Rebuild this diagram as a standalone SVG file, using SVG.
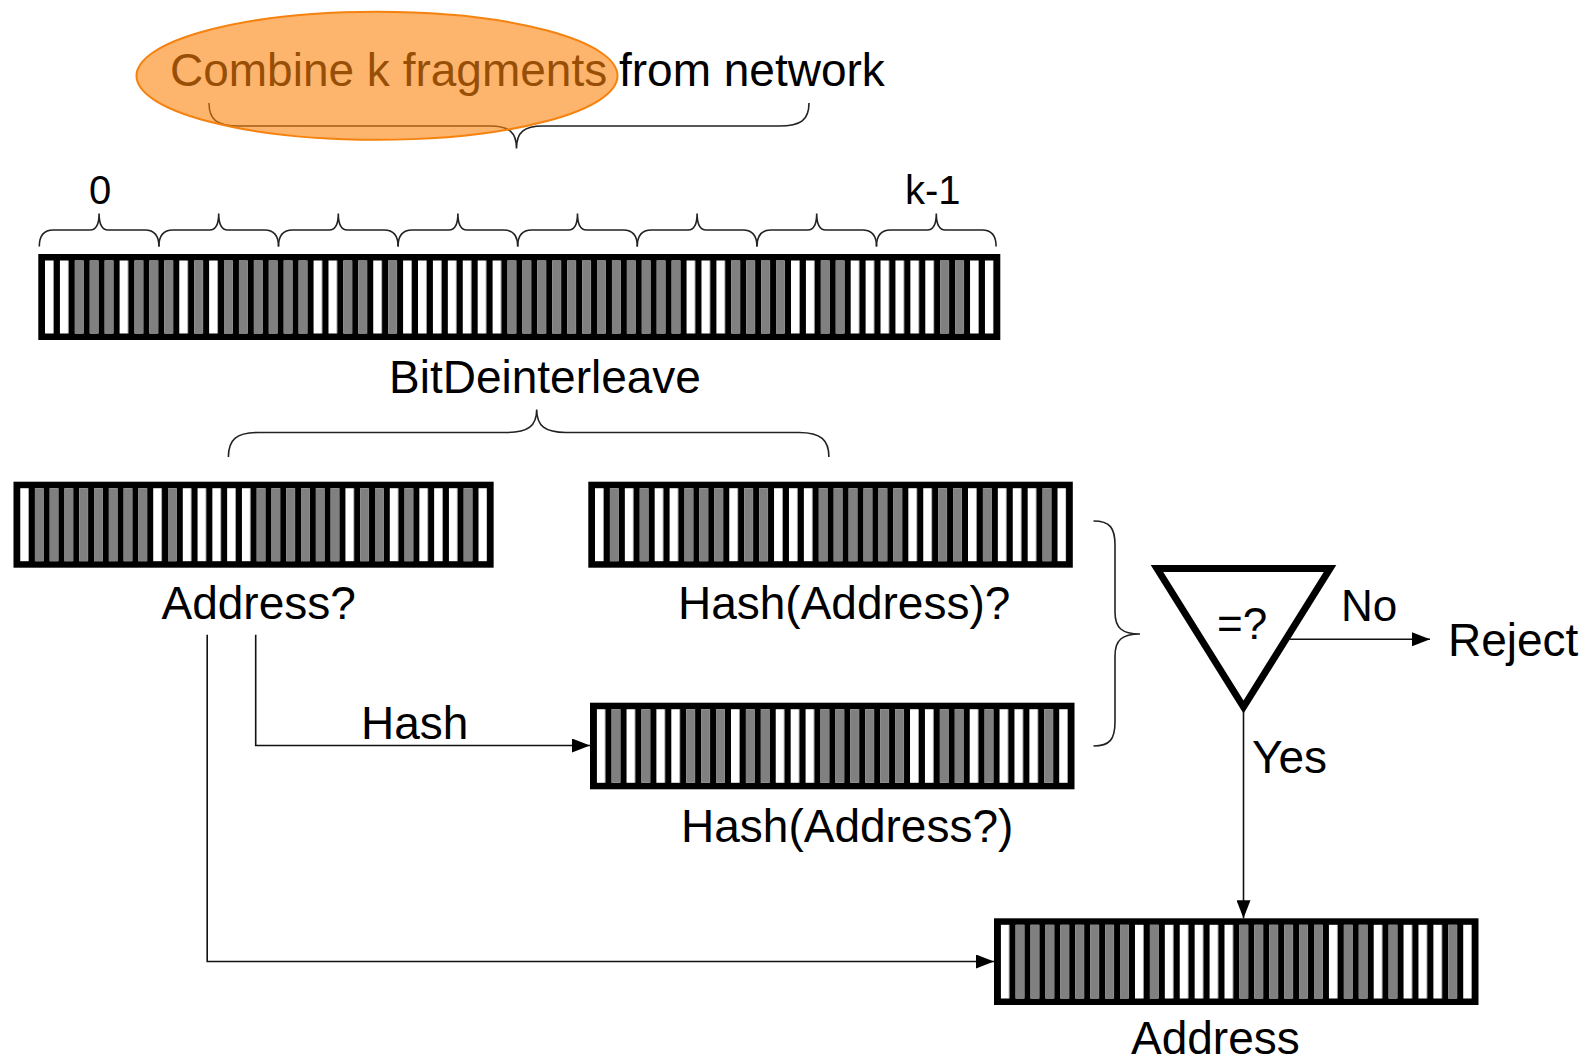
<svg xmlns="http://www.w3.org/2000/svg" xmlns:xlink="http://www.w3.org/1999/xlink" width="1585" height="1062" viewBox="0 0 1585 1062">
<style>
text{font-family:"Liberation Sans",Arial,Helvetica,sans-serif;font-size:46px;fill:#000}
.g{fill:#808080}
.bar{fill:#000}
.conn{fill:none;stroke:#111;stroke-width:1.6}
.brace{fill:none;stroke:#222;stroke-width:1.6}
</style>
<defs>
<pattern id="ws" patternUnits="userSpaceOnUse" x="6.7" y="0" width="14.92" height="200">
<rect x="0" y="0" width="8.6" height="200" fill="#fff"/>
</pattern>
<marker id="arr" markerUnits="userSpaceOnUse" markerWidth="18" markerHeight="14" refX="18" refY="7" orient="auto">
<path d="M0,0 L18,7 L0,14 Z" fill="#000"/>
</marker>
<path id="sb" class="brace" d="M0,246.5 Q0,230 14,230 L50.8,230 Q59.8,230 59.8,213.5 Q59.8,230 68.8,230 L105.6,230 Q119.6,230 119.6,246.5"/>
</defs>

<g id="title">
<text x="170" y="86">Combine k fragments</text>
<text x="619" y="86">from network</text>
<path class="brace" d="M209,103 C209,120 217,126 239,126 L490,126 C509,126 516.5,132 516.5,148.5 C516.5,132 524,126 543,126 L779,126 C801,126 809,120 809,103"/>
<ellipse cx="377" cy="75.8" rx="240.5" ry="64" fill="#FC820A" fill-opacity="0.6" stroke="#F5820F" stroke-width="2"/>
</g>

<g id="fragment-braces">
<use xlink:href="#sb" x="39.3"/>
<use xlink:href="#sb" x="158.9"/>
<use xlink:href="#sb" x="278.5"/>
<use xlink:href="#sb" x="398.1"/>
<use xlink:href="#sb" x="517.7"/>
<use xlink:href="#sb" x="637.3"/>
<use xlink:href="#sb" x="756.9"/>
<use xlink:href="#sb" x="876.5"/>
<text x="100" y="204" text-anchor="middle" style="font-size:40px">0</text>
<text x="905" y="204" style="font-size:40px">k-1</text>
</g>

<g id="combined-bar" transform="translate(38.3,254)">
<rect class="bar" x="0" y="0" width="962" height="86"/>
<rect x="6.7" y="6.5" width="948.6" height="73" fill="url(#ws)"/>
<g class="g">
<rect x="36.54" y="6.5" width="8.6" height="73"/>
<rect x="51.46" y="6.5" width="8.6" height="73"/>
<rect x="66.38" y="6.5" width="8.6" height="73"/>
<rect x="96.22" y="6.5" width="8.6" height="73"/>
<rect x="111.14" y="6.5" width="8.6" height="73"/>
<rect x="126.06" y="6.5" width="8.6" height="73"/>
<rect x="155.90" y="6.5" width="8.6" height="73"/>
<rect x="185.74" y="6.5" width="8.6" height="73"/>
<rect x="200.66" y="6.5" width="8.6" height="73"/>
<rect x="215.58" y="6.5" width="8.6" height="73"/>
<rect x="230.50" y="6.5" width="8.6" height="73"/>
<rect x="245.42" y="6.5" width="8.6" height="73"/>
<rect x="260.34" y="6.5" width="8.6" height="73"/>
<rect x="305.10" y="6.5" width="8.6" height="73"/>
<rect x="320.02" y="6.5" width="8.6" height="73"/>
<rect x="349.86" y="6.5" width="8.6" height="73"/>
<rect x="469.22" y="6.5" width="8.6" height="73"/>
<rect x="484.14" y="6.5" width="8.6" height="73"/>
<rect x="499.06" y="6.5" width="8.6" height="73"/>
<rect x="513.98" y="6.5" width="8.6" height="73"/>
<rect x="528.90" y="6.5" width="8.6" height="73"/>
<rect x="543.82" y="6.5" width="8.6" height="73"/>
<rect x="558.74" y="6.5" width="8.6" height="73"/>
<rect x="573.66" y="6.5" width="8.6" height="73"/>
<rect x="588.58" y="6.5" width="8.6" height="73"/>
<rect x="603.50" y="6.5" width="8.6" height="73"/>
<rect x="618.42" y="6.5" width="8.6" height="73"/>
<rect x="633.34" y="6.5" width="8.6" height="73"/>
<rect x="693.02" y="6.5" width="8.6" height="73"/>
<rect x="707.94" y="6.5" width="8.6" height="73"/>
<rect x="722.86" y="6.5" width="8.6" height="73"/>
<rect x="737.78" y="6.5" width="8.6" height="73"/>
<rect x="782.54" y="6.5" width="8.6" height="73"/>
<rect x="797.46" y="6.5" width="8.6" height="73"/>
<rect x="901.90" y="6.5" width="8.6" height="73"/>
<rect x="916.82" y="6.5" width="8.6" height="73"/>
</g>
</g>

<g id="bitdeinterleave">
<text x="389" y="393">BitDeinterleave</text>
<path class="brace" d="M228.4,457 C228.4,440 236,432.5 258,432.5 L507,432.5 C528,432.5 536.7,426 536.7,409.5 C536.7,426 545,432.5 566,432.5 L799,432.5 C821,432.5 828.9,440 828.9,457"/>
</g>

<g id="address-q">
<g transform="translate(13.5,481.7) scale(0.991,1)">
<rect class="bar" x="0" y="0" width="484.5" height="86"/>
<rect x="6.7" y="6.5" width="471.2" height="73" fill="url(#ws)"/>
<g class="g">
<rect x="21.62" y="6.5" width="8.6" height="73"/>
<rect x="36.54" y="6.5" width="8.6" height="73"/>
<rect x="51.46" y="6.5" width="8.6" height="73"/>
<rect x="66.38" y="6.5" width="8.6" height="73"/>
<rect x="81.30" y="6.5" width="8.6" height="73"/>
<rect x="96.22" y="6.5" width="8.6" height="73"/>
<rect x="111.14" y="6.5" width="8.6" height="73"/>
<rect x="126.06" y="6.5" width="8.6" height="73"/>
<rect x="155.90" y="6.5" width="8.6" height="73"/>
<rect x="245.42" y="6.5" width="8.6" height="73"/>
<rect x="260.34" y="6.5" width="8.6" height="73"/>
<rect x="275.26" y="6.5" width="8.6" height="73"/>
<rect x="290.18" y="6.5" width="8.6" height="73"/>
<rect x="305.10" y="6.5" width="8.6" height="73"/>
<rect x="320.02" y="6.5" width="8.6" height="73"/>
<rect x="349.86" y="6.5" width="8.6" height="73"/>
<rect x="364.78" y="6.5" width="8.6" height="73"/>
<rect x="394.62" y="6.5" width="8.6" height="73"/>
<rect x="454.30" y="6.5" width="8.6" height="73"/>
</g>
</g>
<text x="161.5" y="619">Address?</text>
</g>

<g id="hash-q" transform="translate(588.3,481.7)">
<rect class="bar" x="0" y="0" width="484.5" height="86"/>
<rect x="6.7" y="6.5" width="471.2" height="73" fill="url(#ws)"/>
<g class="g">
<rect x="21.62" y="6.5" width="8.6" height="73"/>
<rect x="51.46" y="6.5" width="8.6" height="73"/>
<rect x="96.22" y="6.5" width="8.6" height="73"/>
<rect x="111.14" y="6.5" width="8.6" height="73"/>
<rect x="126.06" y="6.5" width="8.6" height="73"/>
<rect x="155.90" y="6.5" width="8.6" height="73"/>
<rect x="170.82" y="6.5" width="8.6" height="73"/>
<rect x="230.50" y="6.5" width="8.6" height="73"/>
<rect x="245.42" y="6.5" width="8.6" height="73"/>
<rect x="260.34" y="6.5" width="8.6" height="73"/>
<rect x="275.26" y="6.5" width="8.6" height="73"/>
<rect x="290.18" y="6.5" width="8.6" height="73"/>
<rect x="305.10" y="6.5" width="8.6" height="73"/>
<rect x="349.86" y="6.5" width="8.6" height="73"/>
<rect x="364.78" y="6.5" width="8.6" height="73"/>
<rect x="394.62" y="6.5" width="8.6" height="73"/>
<rect x="454.30" y="6.5" width="8.6" height="73"/>
</g>
<text x="89.7" y="137.3">Hash(Address)?</text>
</g>

<g id="hash-of-address-q" transform="translate(590,702.7)">
<rect class="bar" x="0" y="0" width="484.5" height="86.6"/>
<rect x="6.7" y="6.5" width="471.2" height="73.6" fill="url(#ws)"/>
<g class="g">
<rect x="21.62" y="6.5" width="8.6" height="73.6"/>
<rect x="51.46" y="6.5" width="8.6" height="73.6"/>
<rect x="96.22" y="6.5" width="8.6" height="73.6"/>
<rect x="111.14" y="6.5" width="8.6" height="73.6"/>
<rect x="126.06" y="6.5" width="8.6" height="73.6"/>
<rect x="155.90" y="6.5" width="8.6" height="73.6"/>
<rect x="170.82" y="6.5" width="8.6" height="73.6"/>
<rect x="230.50" y="6.5" width="8.6" height="73.6"/>
<rect x="245.42" y="6.5" width="8.6" height="73.6"/>
<rect x="260.34" y="6.5" width="8.6" height="73.6"/>
<rect x="275.26" y="6.5" width="8.6" height="73.6"/>
<rect x="290.18" y="6.5" width="8.6" height="73.6"/>
<rect x="305.10" y="6.5" width="8.6" height="73.6"/>
<rect x="349.86" y="6.5" width="8.6" height="73.6"/>
<rect x="364.78" y="6.5" width="8.6" height="73.6"/>
<rect x="394.62" y="6.5" width="8.6" height="73.6"/>
<rect x="454.30" y="6.5" width="8.6" height="73.6"/>
</g>
<text x="91" y="139.3">Hash(Address?)</text>
</g>

<g id="group-brace">
<path class="brace" d="M1093.5,521 C1110,521 1115,528 1115,545 L1115,612 C1115,628 1122,634 1140,634 C1122,634 1115,640 1115,656 L1115,722 C1115,739 1110,746 1093.5,746"/>
</g>

<g id="compare">
<path d="M1157,568.5 H1330 L1243.5,707 Z" fill="none" stroke="#000" stroke-width="7" stroke-linejoin="miter"/>
<text x="1217" y="639" style="font-size:44px">=?</text>
</g>

<g id="reject">
<text x="1448" y="656">Reject</text>
</g>

<g id="address" transform="translate(994,918.3)">
<rect class="bar" x="0" y="0" width="484.5" height="86.7"/>
<rect x="6.7" y="6.5" width="471.2" height="73.7" fill="url(#ws)"/>
<g class="g">
<rect x="21.62" y="6.5" width="8.6" height="73.7"/>
<rect x="36.54" y="6.5" width="8.6" height="73.7"/>
<rect x="51.46" y="6.5" width="8.6" height="73.7"/>
<rect x="66.38" y="6.5" width="8.6" height="73.7"/>
<rect x="81.30" y="6.5" width="8.6" height="73.7"/>
<rect x="96.22" y="6.5" width="8.6" height="73.7"/>
<rect x="111.14" y="6.5" width="8.6" height="73.7"/>
<rect x="126.06" y="6.5" width="8.6" height="73.7"/>
<rect x="155.90" y="6.5" width="8.6" height="73.7"/>
<rect x="245.42" y="6.5" width="8.6" height="73.7"/>
<rect x="260.34" y="6.5" width="8.6" height="73.7"/>
<rect x="275.26" y="6.5" width="8.6" height="73.7"/>
<rect x="290.18" y="6.5" width="8.6" height="73.7"/>
<rect x="305.10" y="6.5" width="8.6" height="73.7"/>
<rect x="320.02" y="6.5" width="8.6" height="73.7"/>
<rect x="349.86" y="6.5" width="8.6" height="73.7"/>
<rect x="364.78" y="6.5" width="8.6" height="73.7"/>
<rect x="394.62" y="6.5" width="8.6" height="73.7"/>
<rect x="454.30" y="6.5" width="8.6" height="73.7"/>
</g>
<text x="137" y="136.2">Address</text>
</g>

<g id="connectors">
<path class="conn" d="M255.7,634.8 V745.5 H590" marker-end="url(#arr)"/>
<text x="361" y="739">Hash</text>
<path class="conn" d="M207.2,634.8 V961.5 H994" marker-end="url(#arr)"/>
<path class="conn" d="M1290,639.3 H1430" marker-end="url(#arr)"/>
<text x="1341" y="621" style="font-size:44px">No</text>
<path class="conn" d="M1243.5,712 V918.3" marker-end="url(#arr)"/>
<text x="1252" y="773">Yes</text>
</g>
</svg>
